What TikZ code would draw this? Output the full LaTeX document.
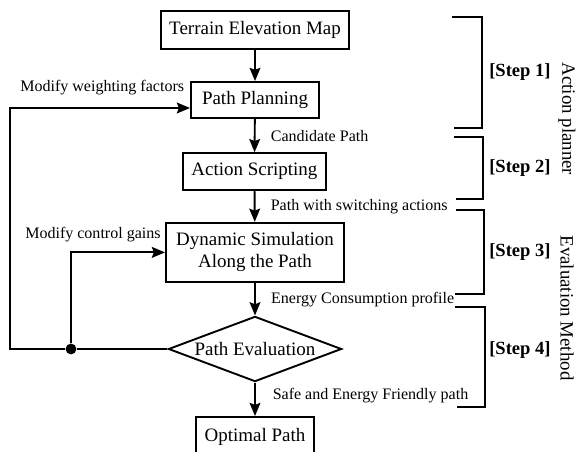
\documentclass[tikz,border=0pt]{standalone}
\usepackage{fontspec}
\setmainfont{Liberation Serif}
\usetikzlibrary{arrows.meta,shapes.geometric}

\begin{document}
\begin{tikzpicture}[
  box/.style={draw, line width=1.35pt, align=center, minimum height=0.92cm, font=\fontsize{13.5}{15.6}\selectfont},
  decision/.style={draw, line width=1.35pt, diamond, aspect=2.66, inner sep=0pt, minimum width=4.33cm, minimum height=1.63cm, font=\fontsize{13.5}{15.6}\selectfont},
  note/.style={font=\fontsize{11.4}{13}\selectfont, inner sep=0pt},
  steplabel/.style={font=\fontsize{13.2}{15}\selectfont\bfseries, anchor=west, inner sep=0pt},
  phase/.style={font=\fontsize{13.4}{15}\selectfont, rotate=-90, inner sep=0pt},
  bracket/.style={line width=1.35pt},
  dot/.style={circle, fill=black, inner sep=0pt, minimum size=0.27cm},
  arrow/.style={-{Stealth[length=3.3mm,width=2.7mm,inset=0.5mm]}, line width=1.35pt}
]
\clip (0,0) rectangle (14.4,-11.3);
\useasboundingbox (0,0) rectangle (14.4,-11.3);

% Flow of the planning and evaluation procedure.
\node[box, minimum width=4.68cm, minimum height=0.95cm] (terrain) at (6.375,-0.75) {Terrain Elevation Map};
\node[box, minimum width=3.2cm, minimum height=0.9cm] (plan) at (6.375,-2.5) {Path Planning};
\node[box, minimum width=3.58cm] (script) at (6.36,-4.29) {Action Scripting};
\node[box, minimum width=4.45cm, minimum height=1.48cm] (dyn) at (6.375,-6.31) {Dynamic Simulation\\Along the Path};
\node[decision] (eval) at (6.375,-8.725) {Path Evaluation};
\node[box, minimum width=2.95cm, minimum height=1.0cm] (opt) at (6.375,-10.925) {Optimal Path};

\node[note, anchor=west] (weights) at (0.5,-2.2) {Modify weighting factors};
\node[note, anchor=west] (gains) at (0.625,-5.875) {Modify control gains};

\draw[arrow] (terrain) -- (plan);
\draw[arrow] (plan) -- node[note, anchor=west, xshift=0.38cm] (cand) {Candidate Path} (script);
\draw[arrow] (script) -- node[note, anchor=west, xshift=0.38cm] (switch) {Path with switching actions} (dyn);
\draw[arrow] (dyn) -- node[note, anchor=west, xshift=0.38cm] (energy) {Energy Consumption profile} (eval);
\draw[arrow] (eval) -- node[note, anchor=west, xshift=0.42cm, yshift=0.1cm] (safe) {Safe and Energy Friendly path} (opt);

% feedback loops
\node[dot] (junc) at (1.775,-8.725) {};
\coordinate (fb) at (0.25,-8.725);
\draw[line width=1.35pt] (eval.west) -- (junc);
\draw[arrow] (junc) -- (fb) |- ([yshift=-0.2cm]plan.west);
\draw[arrow] (junc) |- (dyn.west);

% step brackets
\draw[bracket] (11.3,-0.425) -- (12.05,-0.425) -- (12.05,-3.2) -- (11.35,-3.2);
\draw[bracket] (11.35,-3.425) -- (12.075,-3.425) -- (12.075,-4.975) -- (11.4,-4.975);
\draw[bracket] (11.4,-5.25) -- (12.1,-5.25) -- (12.1,-7.35) -- (11.375,-7.35);
\draw[bracket] (11.375,-7.675) -- (12.125,-7.675) -- (12.125,-10.175) -- (11.425,-10.175);

\node[steplabel] (step1) at (12.225,-1.8) {[Step 1]};
\node[steplabel] (step2) at (12.225,-4.2) {[Step 2]};
\node[steplabel] (step3) at (12.225,-6.3) {[Step 3]};
\node[steplabel] (step4) at (12.225,-8.75) {[Step 4]};

\node[phase] (planner) at (14.175,-2.975) {Action planner};
\node[phase] (method) at (14.175,-7.7) {Evaluation Method};
\end{tikzpicture}
\end{document}
